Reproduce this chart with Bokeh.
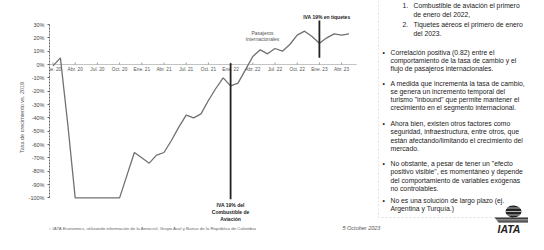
from bokeh.plotting import figure
from bokeh.models import Range1d, FixedTicker, ColumnDataSource, BoxAnnotation
from bokeh.embed import file_html
from bokeh.resources import INLINE
from bokeh.core.properties import value

# ---------------- data ----------------
month_labels = ["Ene.20", "Feb.20", "Mar.20", "Abr.20", "May.20", "Jun.20", "Jul.20", "Ago.20",
                "Sep.20", "Oct.20", "Nov.20", "Dic.20",
                "Ene.21", "Feb.21", "Mar.21", "Abr.21", "May.21", "Jun.21", "Jul.21", "Ago.21",
                "Sep.21", "Oct.21", "Nov.21", "Dic.21",
                "Ene.22", "Feb.22", "Mar.22", "Abr.22", "May.22", "Jun.22", "Jul.22", "Ago.22",
                "Sep.22", "Oct.22", "Nov.22", "Dic.22",
                "Ene.23", "Feb.23", "Mar.23", "Abr.23", "May.23"]
growth_pct = [-1, 5, -45, -100, -100, -100, -100, -100, -100, -100, -83, -66,
              -70, -74, -68, -66, -57, -47, -38, -40, -37, -27, -18, -10,
              -16, -14, -4, 6, 11, 8, 12, 10, 15, 22, 25, 21,
              16, 20, 23, 22, 23]
tick_labels = ["Ene. 20", "Abr. 20", "Jul. 20", "Oct. 20", "Ene. 21", "Abr. 21", "Jul. 21",
               "Oct. 21", "Ene. 22", "Abr. 22", "Jul. 22", "Oct. 22", "Ene. 23", "Abr. 23"]
y_ticks = [30, 20, 10, 0, -10, -20, -30, -40, -50, -60, -70, -80, -90, -100]
event_months = ["Ene.22", "Ene.23"]
event_top = [1, 33]
event_bottom = [-101, 5]
event_labels = [["IVA 19% del", "Combustible de", "Aviación"], ["IVA 19% en tiquetes"]]
series_label = ["Pasajeros", "internacionales"]
y_title = "Tasa de crecimiento vs. 2019"

panel_lines = [
    ("1.", "Combustible de aviación el primero"),
    ("", "de enero del 2022,"),
    ("2.", "Tiquetes aéreos el primero de enero"),
    ("", "del 2023."),
    ("•", "Correlación   positiva   (0.82)   entre   el"),
    ("", "comportamiento de la tasa de cambio y el"),
    ("", "flujo de pasajeros internacionales."),
    ("•", "A medida que incrementa la tasa de cambio,"),
    ("", "se  genera  un  incremento  temporal  del"),
    ("", "turismo \"inbound\" que permite mantener el"),
    ("", "crecimiento en el segmento internacional."),
    ("•", "Ahora bien, existen otros factores como"),
    ("", "seguridad, infraestructura, entre otros, que"),
    ("", "están afectando/limitando el crecimiento del"),
    ("", "mercado."),
    ("•", "No obstante, a pesar de tener un \"efecto"),
    ("", "positivo visible\", es momentáneo y depende"),
    ("", "del comportamiento de variables exógenas"),
    ("", "no controlables."),
    ("•", "No es una solución de largo plazo (ej."),
    ("", "Argentina y Turquía.)"),
]
footnote = ("Fuente: IATA Economics, utilizando información de la Aerocivil, "
            "Grupo Aval y Banco de la República de Colombia")
date_text = "5 October 2023"

# ---------------- layout helpers (canvas pixel -> data) ----------------
W, H = 528, 234
LEFT = 49               # canvas pixel of the y axis
X0, DX = 52.5, 7.4      # canvas pixel of first month, pixels per month
Y0, DY = 64.0, 4 / 3    # canvas pixel of 0 %, pixels per percent


def px2x(px):
    return (px - X0) / DX


def px2y(py):
    return (Y0 - py) / DY


FONT = value("Liberation Sans")

p = figure(width=W, height=H, output_backend="svg", toolbar_location=None,
           x_range=Range1d(px2x(LEFT), px2x(W)), y_range=Range1d(px2y(H), px2y(0)),
           x_axis_location=None, y_axis_location="left",
           min_border_left=LEFT, min_border_right=0, min_border_top=0, min_border_bottom=0)
p.grid.visible = False
p.outline_line_color = None
p.background_fill_color = "#ffffff"
p.border_fill_color = "#ffffff"

# y axis
ya = p.yaxis[0]
ya.ticker = FixedTicker(ticks=y_ticks)
ya.major_label_overrides = {t: f"{t}%" for t in y_ticks}
ya.bounds = (min(y_ticks), max(y_ticks))
ya.axis_line_color = "#666666"
ya.axis_line_dash = "2 1"
ya.axis_line_width = 1
ya.major_tick_in = 0
ya.major_tick_out = 2
ya.major_tick_line_color = "#666666"
ya.minor_tick_line_color = None
ya.major_label_standoff = 3
ya.major_label_text_font_size = "5.5px"
ya.major_label_text_color = "#444444"
ya.major_label_text_font = "Liberation Sans"
ya.axis_label = y_title
ya.axis_label_text_font_size = "5.5px"
ya.axis_label_text_font_style = "normal"
ya.axis_label_text_color = "#555555"
ya.axis_label_text_font = "Liberation Sans"
ya.axis_label_standoff = 1

# x axis drawn at 0 %
n = len(month_labels)
tick_x = [month_labels.index(l.replace(" ", "")) for l in tick_labels]
p.segment(x0=[px2x(LEFT)], y0=[0], x1=[n], y1=[0], line_color="#888888", line_dash="1 1", line_width=1)
p.segment(x0=tick_x, y0=[0] * len(tick_x), x1=tick_x, y1=[1.5] * len(tick_x),
          line_color="#888888", line_width=0.8)
p.text(x=tick_x, y=[0] * len(tick_x), text=tick_labels, y_offset=2, text_align="center",
       text_baseline="top", text_font=FONT, text_font_size="4.8px", text_color="#555555")

# series
src = ColumnDataSource(dict(x=list(range(n)), y=growth_pct))
p.line("x", "y", source=src, line_color="#707070", line_width=1.3)

# event lines
ev_x = [month_labels.index(m) for m in event_months]
p.segment(x0=ev_x, y0=event_top, x1=ev_x, y1=event_bottom, line_color="#222222", line_width=1.8)
p.text(x=[ev_x[0]] * 3, y=[event_bottom[0]] * 3, text=event_labels[0],
       y_offset=[3, 10, 17], text_align="center", text_baseline="top",
       text_font=FONT, text_font_size="5px", text_font_style="bold", text_color="#222222")
p.text(x=[ev_x[1] + 1], y=[event_top[1]], text=event_labels[1], y_offset=-1,
       text_align="center", text_baseline="bottom",
       text_font=FONT, text_font_size="5px", text_font_style="bold", text_color="#222222")
p.text(x=[px2x(262)] * 2, y=[px2y(32)] * 2, text=series_label, y_offset=[0, 6],
       text_align="center", text_baseline="middle",
       text_font=FONT, text_font_size="5px", text_color="#555555")

# right panel
p.add_layout(BoxAnnotation(left=px2x(378), right=px2x(600), top=px2y(-20), bottom=px2y(217),
                           fill_alpha=0, line_color="#999999", line_dash="2 2", line_width=1))
panel_y = [5, 14, 24, 33, 52, 60, 68, 83, 91, 99, 107, 123, 131, 140, 148, 163, 171, 180, 188, 200, 208]
mark_x, mark_y, mark_t, body_x, body_y, body_t = [], [], [], [], [], []
numbered = False
for (mk, txt), py in zip(panel_lines, panel_y):
    if mk in ("1.", "2."):
        numbered = True
    elif mk == "•":
        numbered = False
    if mk:
        mark_x.append(px2x(402 if numbered else 382))
        mark_y.append(px2y(py))
        mark_t.append(mk)
    body_x.append(px2x(413 if numbered else 390))
    body_y.append(px2y(py))
    body_t.append(txt)
p.text(x=mark_x, y=mark_y, text=mark_t, text_baseline="middle", text_align="left",
       text_font=FONT, text_font_size="6.8px", text_color="#222222")
p.text(x=body_x, y=body_y, text=body_t, text_baseline="middle", text_align="left",
       text_font=FONT, text_font_size="6.8px", text_color="#222222")

# footer
p.text(x=[px2x(36)], y=[px2y(228)], text=[footnote], text_baseline="middle", text_align="left",
       text_font=FONT, text_font_size="4.4px", text_color="#666666")
p.text(x=[px2x(342)], y=[px2y(227)], text=[date_text], text_baseline="middle", text_align="left",
       text_font=FONT, text_font_size="5.5px", text_font_style="italic", text_color="#555555")

# IATA logo (approximation)
p.ellipse(x=[px2x(513)], y=[px2y(211)], width=[16 / DX], height=[12 / DY],
          fill_color="#222222", line_color=None)
p.segment(x0=[px2x(505)] * 3, y0=[px2y(207.5), px2y(211), px2y(214.5)],
          x1=[px2x(521)] * 3, y1=[px2y(207.5), px2y(211), px2y(214.5)],
          line_color="#ffffff", line_width=0.7)
p.patch(x=[px2x(494), px2x(530), px2x(530), px2x(498)],
        y=[px2y(217), px2y(217), px2y(222), px2y(222)], fill_color="#222222", line_color=None)
p.segment(x0=[px2x(494)] * 2, y0=[px2y(218.8), px2y(220.4)], x1=[px2x(530)] * 2,
          y1=[px2y(218.8), px2y(220.4)], line_color="#ffffff", line_width=0.6)
p.text(x=[px2x(497)], y=[px2y(228)], text=["IATA"], text_baseline="middle", text_align="left",
       text_font=FONT, text_font_size="10.5px", text_font_style="bold italic", text_color="#222222")

open("out.html", "w").write(file_html(p, INLINE))
